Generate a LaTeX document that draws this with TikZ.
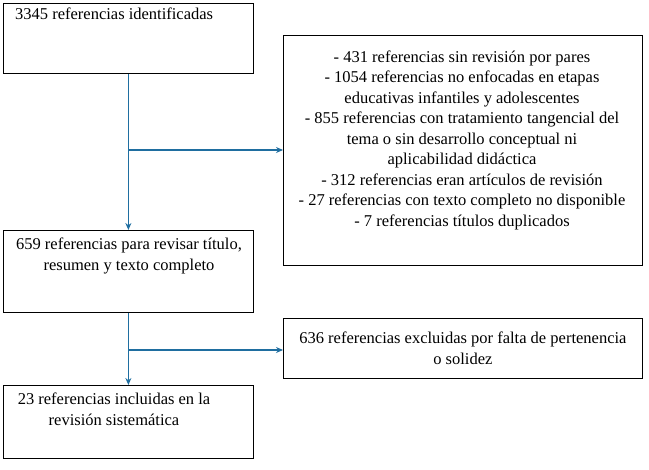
\documentclass[tikz,border=0pt]{standalone}
\usepackage{fontspec}
\setmainfont{Liberation Serif}
\usetikzlibrary{arrows.meta}
\begin{document}
\begin{tikzpicture}[x=1pt,y=-1pt,
 box/.style={draw=black,line width=0.8pt},
 txt/.style={font=\fontsize{16.5}{20.5}\selectfont,align=center,inner sep=0pt},
 con/.style={draw={rgb,255:red,31;green,110;blue,160},line width=1.2pt},
 arr/.style={con,-{Stealth[length=7pt,width=6pt]}}]
\useasboundingbox (0,0) rectangle (649,470);
\node[box,minimum width=250,minimum height=70,anchor=north west] (b1) at (3,3) {};
\node[txt,anchor=north west] at (15,8) {3345 referencias identificadas};
\node[box,minimum width=359,minimum height=230,anchor=north west] (b2) at (283,35) {};
\node[txt] at (462,140) {- 431 referencias sin revisión por pares\\- 1054 referencias no enfocadas en etapas\\educativas infantiles y adolescentes\\- 855 referencias con tratamiento tangencial del\\tema o sin desarrollo conceptual ni\\aplicabilidad didáctica\\- 312 referencias eran artículos de revisión\\- 27 referencias con texto completo no disponible\\- 7 referencias títulos duplicados};
\node[box,minimum width=250,minimum height=82,anchor=north west] (b3) at (3,230) {};
\node[txt,anchor=north] at (129,238) {659 referencias para revisar título,\\resumen y texto completo};
\node[box,minimum width=359,minimum height=60,anchor=north west] (b4) at (283,318) {};
\node[txt] at (b4.center) {636 referencias excluidas por falta de pertenencia\\o solidez};
\node[box,minimum width=250,minimum height=73,anchor=north west] (b5) at (3,385) {};
\node[txt,anchor=north] at (114,393) {23 referencias incluidas en la\\revisión sistemática};
\coordinate (j1) at (128,150);
\coordinate (j2) at (128,350);
\draw[arr] (b1.south) -- (b3.north);
\draw[arr] (j1) -- (j1 -| b2.west);
\draw[arr] (b3.south) -- (b5.north);
\draw[arr] (j2) -- (j2 -| b4.west);
\end{tikzpicture}
\end{document}
